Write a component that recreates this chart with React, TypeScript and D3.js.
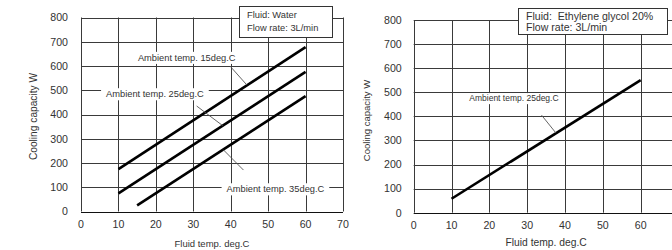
import React, { useEffect, useRef } from "react";
import * as d3 from "d3";

// ---------- data ----------
const xTicks = [0, 10, 20, 30, 40, 50, 60, 70];
const yTicks = [0, 100, 200, 300, 400, 500, 600, 700, 800];

const waterAmb15Temp = [10, 60];
const waterAmb15 = [175, 678];
const waterAmb25Temp = [10, 60];
const waterAmb25 = [75, 576];
const waterAmb35Temp = [15, 60];
const waterAmb35 = [25, 476];

const glycolAmb25Temp = [10, 60];
const glycolAmb25 = [58, 550];

const xTitle = "Fluid temp. deg.C";
const yTitle = "Cooling capacity W";
const waterLegend = ["Fluid: Water", "Flow rate: 3L/min"];
const glycolLegend = ["Fluid:  Ethylene glycol 20%", "Flow rate: 3L/min"];
const waterLabels = ["Ambient temp. 15deg.C", "Ambient temp. 25deg.C", "Ambient temp. 35deg.C"];
const glycolLabels = ["Ambient temp. 25deg.C"];

const FONT = "Arial, 'Liberation Sans', sans-serif";

type Ann = { text: string; tx: number; ty: number; l1: [number, number]; l2: [number, number] };

type ChartOpts = {
  xLeft: number; xRight: number; yBottom: number; yTop: number;
  series: { t: number[]; v: number[] }[];
  anns: Ann[];
  annFont: number;
  legend: string[];
  legendBox: [number, number, number, number];
  legendFont: number;
  legendBaselines: [number, number];
  tickFont: number;
  yTickGap: number;
  xTickDy: number;
  xTitleY: number; titleFont: number;
  yTitleX: number; yTitleY: number; yTitleFont: number;
};

function drawChart(svg: d3.Selection<SVGSVGElement, unknown, null, undefined>, o: ChartOpts) {
  const x = d3.scaleLinear().domain([0, 70]).range([o.xLeft, o.xRight]);
  const y = d3.scaleLinear().domain([0, 800]).range([o.yBottom, o.yTop]);
  const g = svg.append("g");

  // grid
  g.selectAll(null).data(xTicks).enter().append("line")
    .attr("x1", (d) => Math.round(x(d)) + 0.5).attr("x2", (d) => Math.round(x(d)) + 0.5)
    .attr("y1", y(0)).attr("y2", y(800))
    .attr("stroke", "#3a3a3a").attr("stroke-width", 1);
  g.selectAll(null).data(yTicks).enter().append("line")
    .attr("y1", (d) => Math.round(y(d)) + 0.5).attr("y2", (d) => Math.round(y(d)) + 0.5)
    .attr("x1", x(0)).attr("x2", x(70))
    .attr("stroke", (d) => (d === 0 ? "#111" : "#3a3a3a")).attr("stroke-width", 1);

  // tick labels
  g.selectAll(null).data(yTicks).enter().append("text")
    .attr("x", x(0) - o.yTickGap).attr("y", (d) => y(d)).attr("dy", "0.36em")
    .attr("text-anchor", "end").attr("font-size", o.tickFont).attr("fill", "#333")
    .attr("font-family", FONT).text((d) => d);
  g.selectAll(null).data(xTicks).enter().append("text")
    .attr("x", (d) => x(d)).attr("y", y(0) + o.xTickDy)
    .attr("text-anchor", "middle").attr("font-size", o.tickFont).attr("fill", "#333")
    .attr("font-family", FONT).text((d) => d);

  // titles
  g.append("text").attr("x", (x(0) + x(70)) / 2).attr("y", o.xTitleY)
    .attr("text-anchor", "middle").attr("font-size", o.titleFont).attr("fill", "#333")
    .attr("font-family", FONT).text(xTitle);
  g.append("text").attr("transform", `translate(${o.yTitleX},${o.yTitleY}) rotate(-90)`)
    .attr("text-anchor", "middle").attr("font-size", o.yTitleFont).attr("fill", "#333")
    .attr("font-family", FONT).text(yTitle);

  // data lines
  const line = d3.line<[number, number]>().x((d) => x(d[0])).y((d) => y(d[1]));
  o.series.forEach((s) => {
    const pts: [number, number][] = s.t.map((t, i) => [t, s.v[i]]);
    g.append("path").attr("d", line(pts)).attr("fill", "none")
      .attr("stroke", "#000").attr("stroke-width", 2.6);
  });

  // annotations
  o.anns.forEach((a) => {
    g.append("line").attr("x1", x(a.l1[0])).attr("y1", y(a.l1[1]))
      .attr("x2", x(a.l2[0])).attr("y2", y(a.l2[1]))
      .attr("stroke", "#555").attr("stroke-width", 0.9);
    const bg = g.append("rect").attr("fill", "#fff");
    const t = g.append("text").attr("x", x(a.tx)).attr("y", y(a.ty))
      .attr("font-size", o.annFont).attr("fill", "#333").attr("font-family", FONT).text(a.text);
    const w = (t.node() as SVGTextElement).getComputedTextLength();
    bg.attr("x", x(a.tx) - 5).attr("y", y(a.ty) - o.annFont * 0.95)
      .attr("width", w + 10).attr("height", o.annFont * 1.3);
  });

  // legend
  const [bx, by, bw, bh] = o.legendBox;
  g.append("rect").attr("x", bx + 0.5).attr("y", by + 0.5).attr("width", bw).attr("height", bh)
    .attr("fill", "#fff").attr("stroke", "#333").attr("stroke-width", 1);
  o.legend.forEach((s, i) => {
    g.append("text").attr("x", bx + 8).attr("y", o.legendBaselines[i])
      .attr("font-size", o.legendFont).attr("fill", "#333").attr("font-family", FONT)
      .attr("xml:space", "preserve").style("white-space", "pre").text(s);
  });
}

export default function App() {
  const ref = useRef<SVGSVGElement>(null);
  useEffect(() => {
    const svg = d3.select(ref.current!);
    svg.selectAll("*").remove();
    drawChart(svg, {
      xLeft: 81, xRight: 343, yBottom: 211.5, yTop: 17.5,
      series: [
        { t: waterAmb15Temp, v: waterAmb15 },
        { t: waterAmb25Temp, v: waterAmb25 },
        { t: waterAmb35Temp, v: waterAmb35 },
      ],
      anns: [
        { text: waterLabels[0], tx: 15.2, ty: 622, l1: [39.8, 600], l2: [44.3, 522] },
        { text: waterLabels[1], tx: 6.7, ty: 472, l1: [30.9, 435], l2: [37.86, 354] },
        { text: waterLabels[2], tx: 38.9, ty: 80, l1: [43.4, 171], l2: [38.0, 255] },
      ],
      annFont: 9.3,
      legend: waterLegend,
      legendBox: [239, 6, 93, 31],
      legendFont: 9.3,
      legendBaselines: [18, 31],
      tickFont: 10.6,
      yTickGap: 13,
      xTickDy: 16.5,
      xTitleY: 246.5, titleFont: 9.5,
      yTitleX: 36.5, yTitleY: 116.5, yTitleFont: 10.2,
    });
    drawChart(svg, {
      xLeft: 413.7, xRight: 678.5, yBottom: 212.7, yTop: 20,
      series: [{ t: glycolAmb25Temp, v: glycolAmb25 }],
      anns: [
        { text: glycolLabels[0], tx: 14.7, ty: 463, l1: [33.8, 405], l2: [37.6, 331] },
      ],
      annFont: 8.5,
      legend: glycolLegend,
      legendBox: [518, 8, 149, 26],
      legendFont: 10.6,
      legendBaselines: [19.5, 31],
      tickFont: 10.6,
      yTickGap: 12,
      xTickDy: 16.5,
      xTitleY: 246, titleFont: 10.3,
      yTitleX: 370, yTitleY: 120.5, yTitleFont: 9.5,
    });
  }, []);
  return (
    <svg ref={ref} width={672} height={250}
      style={{ position: "absolute", left: 0, top: 0, background: "#fff" }} />
  );
}
